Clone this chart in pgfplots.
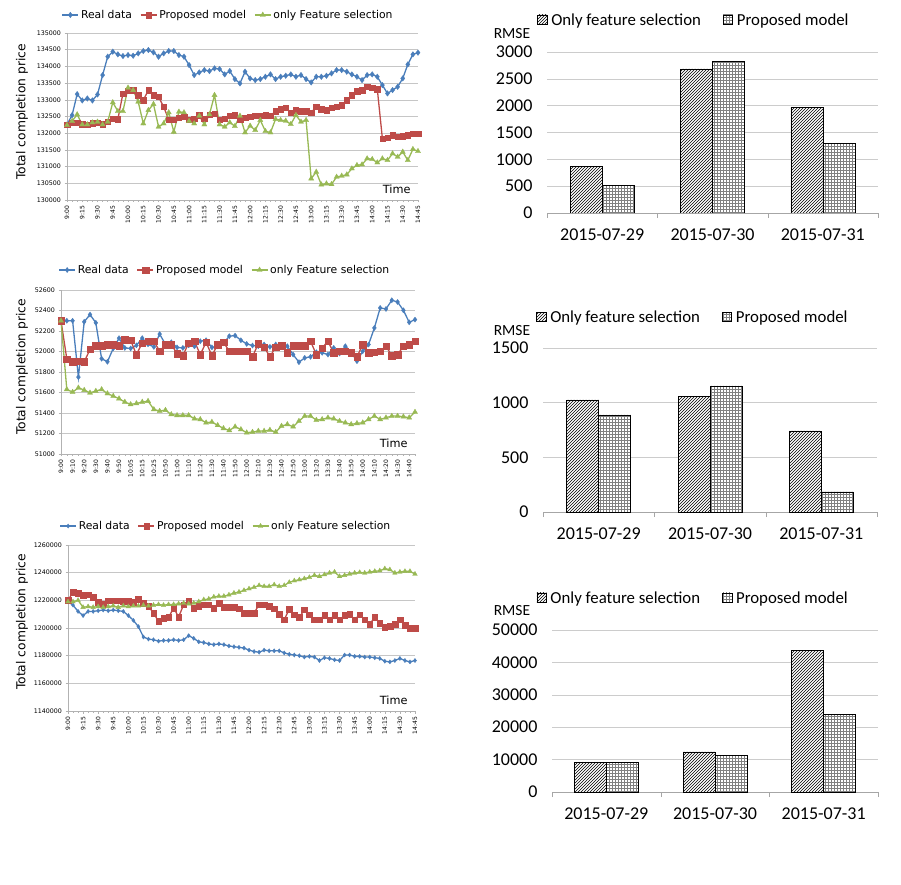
\documentclass[border=0pt]{standalone}
\usepackage{fontspec}
\setmainfont{Carlito}
\newfontfamily\lf{DejaVu Sans}
\usepackage{pgfplots}
\usepackage{pgfplotstable}
\pgfplotsset{compat=1.18}
\usetikzlibrary{patterns}

\definecolor{realc}{HTML}{4A7EBB}
\definecolor{propc}{HTML}{BE4B48}
\definecolor{fsc}{HTML}{98B954}

% first day: real data, proposed model, only feature selection (every 5 min)
\pgfplotstableread{
i r p f
0 132260 132260 132240
1 132540 132320 132360
2 133170 132320 132560
3 132980 132270 132260
4 133040 132260 132260
5 132980 132300 132320
6 133160 132320 132340
7 133740 132270 132260
8 134290 132340 132340
9 134440 132440 132920
10 134360 132420 132660
11 134310 133190 132660
12 134340 133270 133360
13 134320 133290 133290
14 134390 133140 132940
15 134460 132990 132290
16 134490 133290 132690
17 134420 133140 132870
18 134290 133090 132190
19 134390 132790 132290
20 134460 132410 132620
21 134460 132410 132040
22 134340 132470 132640
23 134290 132490 132620
24 134040 132410 132360
25 133740 132440 132290
26 133820 132540 132520
27 133890 132440 132260
28 133860 132560 132560
29 133940 132590 133140
30 133920 132410 132260
31 133760 132440 132190
32 133860 132520 132320
33 133620 132540 132210
34 133490 132410 132520
35 133840 132460 132020
36 133640 132490 132220
37 133590 132520 132090
38 133620 132520 132390
39 133690 132540 132060
40 133760 132520 132020
41 133620 132660 132420
42 133690 132720 132390
43 133720 132760 132370
44 133760 132620 132270
45 133690 132690 132540
46 133740 132660 132340
47 133620 132660 132390
48 133520 132620 130640
49 133690 132790 130840
50 133690 132720 130460
51 133720 132690 130490
52 133790 132760 130470
53 133890 132790 130690
54 133890 132840 130720
55 133840 132990 130760
56 133760 133140 130940
57 133690 133260 131040
58 133590 133290 131060
59 133740 133390 131240
60 133760 133360 131220
61 133690 133320 131120
62 133440 131840 131240
63 133190 131860 131190
64 133290 131940 131390
65 133390 131890 131290
66 133640 131910 131440
67 134060 131940 131190
68 134360 131990 131520
69 134410 131990 131460
}\tA

% second day
\pgfplotstableread{
i r p f
0 52300 52300 52300
1 52300 51928 51630
2 52300 51900 51604
3 51750 51905 51646
4 52290 51900 51623
5 52360 52020 51597
6 52280 52058 51614
7 51930 52058 51630
8 51900 52068 51590
9 52030 52068 51565
10 52130 52058 51540
11 52035 52117 51507
12 52030 52110 51484
13 52060 51970 51493
14 52130 52084 51507
15 52070 52100 51516
16 52045 52100 51435
17 52170 52003 51419
18 52070 52068 51428
19 52090 52068 51386
20 52040 51980 51377
21 52035 51960 51377
22 52060 52084 51377
23 52050 52100 51344
24 52100 51970 51338
25 52110 52090 51305
26 52040 51960 51312
27 52050 52068 51280
28 52080 52090 51250
29 52150 52003 51230
30 52155 52003 51266
31 52110 52003 51240
32 52074 52003 51208
33 52058 51948 51214
34 52052 52078 51224
35 52068 52045 51224
36 52045 51948 51234
37 52068 52045 51214
38 52052 52058 51273
39 52052 51987 51289
40 51970 52058 51266
41 51896 52058 51321
42 51938 52058 51370
43 51948 52100 51370
44 51993 51970 51331
45 51987 52035 51338
46 51970 52100 51354
47 52035 51987 51344
48 51980 52003 51321
49 52052 52003 51305
50 51993 51987 51289
51 51906 51948 51299
52 52003 52068 51305
53 52068 51987 51338
54 52230 51993 51370
55 52425 52003 51338
56 52415 52052 51354
57 52500 51960 51370
58 52483 51970 51370
59 52402 52052 51364
60 52285 52068 51354
61 52311 52100 51409
}\tB

% third day
\pgfplotstableread{
i r p f
0 1219000 1220000 1219000
1 1216500 1226000 1219000
2 1212000 1225300 1220000
3 1209000 1223600 1215000
4 1212000 1224100 1215500
5 1212000 1222200 1215000
6 1212500 1218800 1215500
7 1213000 1217300 1215000
8 1212500 1219800 1215500
9 1213000 1219800 1216000
10 1212500 1219800 1215000
11 1212000 1219300 1216000
12 1209000 1219300 1215500
13 1205500 1218800 1216000
14 1201000 1221000 1216000
15 1193500 1218100 1216500
16 1192000 1215700 1216000
17 1191500 1210800 1216500
18 1190500 1204800 1217000
19 1191000 1207200 1216500
20 1191000 1207700 1217000
21 1191500 1214500 1217000
22 1191000 1208000 1217500
23 1191500 1216900 1218000
24 1194500 1219300 1217500
25 1192500 1214500 1218000
26 1190000 1215700 1219000
27 1189500 1216900 1220500
28 1188500 1216900 1221000
29 1188000 1214500 1222500
30 1188500 1218100 1223000
31 1188000 1215000 1223000
32 1187000 1215000 1224000
33 1186500 1215000 1225300
34 1186000 1214000 1226000
35 1185500 1210800 1227200
36 1184000 1210800 1228400
37 1183000 1210800 1229400
38 1182500 1216900 1230800
39 1184000 1216900 1230100
40 1183500 1215700 1230100
41 1183500 1214000 1231300
42 1183500 1210100 1230100
43 1182000 1206000 1230800
44 1181000 1213700 1233000
45 1180500 1209600 1234200
46 1180000 1207700 1234900
47 1179000 1213200 1235700
48 1179500 1209600 1236600
49 1179000 1206000 1238100
50 1176500 1206000 1237300
51 1178500 1209100 1238600
52 1178000 1206000 1239800
53 1177000 1209100 1240500
54 1176500 1206000 1237300
55 1180500 1209100 1238100
56 1180500 1210100 1239000
57 1179500 1206000 1239800
58 1179500 1209600 1240200
59 1179000 1206000 1239800
60 1179000 1202900 1240500
61 1178500 1207700 1241000
62 1178000 1203600 1241400
63 1176000 1200500 1242900
64 1175500 1201200 1242200
65 1176500 1202900 1239800
66 1178000 1206000 1240500
67 1176500 1201900 1241000
68 1175500 1200000 1241000
69 1176500 1200000 1239000
}\tC

\pgfplotsset{
  lines/.style={
    scale only axis,
    axis x line=bottom, axis y line=left,
    axis line style={draw=gray!60, -},
    ymajorgrids, major grid style={draw=gray!45, line width=0.5pt},
    tick align=outside, major tick length=2.5pt, minor tick length=2pt,
    tick style={draw=gray!60, line width=0.4pt},
    yticklabel style={font=\lf\fontsize{6.3}{7}\selectfont},
    /pgf/number format/1000 sep={}, /pgf/number format/fixed,
    /pgf/number format/assume math mode=true,
    scaled y ticks=false,
    xticklabel style={font=\lf\fontsize{6}{7}\selectfont, rotate=90, anchor=east},
    legend style={draw=none, fill=none, font=\lf\fontsize{10.8}{12}\selectfont,
      legend columns=3, anchor=center,
      /tikz/every even column/.append style={column sep=6pt}},
    legend image code/.code={\draw[mark repeat=2,mark phase=2,##1]
      plot coordinates {(0pt,0pt)(8pt,0pt)(16pt,0pt)};},
    every axis plot/.append style={line width=1.3pt},
    clip=false,
  },
  bars/.style={
    scale only axis, ybar=0pt, bar width=32pt,
    xmin=-0.5, xmax=2.5, ymin=0,
    axis x line=bottom, axis y line=left,
    x axis line style={draw=gray!70, -}, y axis line style={draw=none},
    ymajorgrids, major grid style={draw=gray!40},
    xtick={0,1,2}, xticklabels={2015-07-29,2015-07-30,2015-07-31},
    major tick length=0pt,
    extra x ticks={-0.5,0.5,1.5,2.5}, extra x tick labels={},
    extra x tick style={grid=none, tick align=outside, major tick length=5pt,
      tick style={draw=gray!70}},
    tick label style={font=\fontsize{18}{20}\selectfont},
    xticklabel style={yshift=-12pt},
    yticklabel style={xshift=-11pt, inner ysep=1pt},
    /pgf/number format/1000 sep={}, /pgf/number format/assume math mode=true,
    scaled y ticks=false,
    legend style={draw=none, fill=none, font=\fontsize{16.8}{18}\selectfont,
      legend columns=2, anchor=center,
      /tikz/every odd column/.append style={column sep=2pt},
      /tikz/every even column/.append style={column sep=20pt}},
  },
  barleg/.style={legend image code/.code={\draw[##1] (0pt,-4.5pt) rectangle (9.5pt,5pt);}},
  hatch/.style={draw=black, fill=white, postaction={pattern=north east lines}, barleg},
  cross/.style={draw=black, fill=white, postaction={pattern=grid, pattern color=gray}, barleg},
}

\begin{document}
\begin{tikzpicture}
\useasboundingbox (0,0) rectangle (901pt,884pt);

% ---- line chart 1
\begin{axis}[lines, at={(67pt,684pt)}, anchor=south west, width=351pt, height=167pt,
  xmin=0, xmax=69, ymin=130000, ymax=135000,
  ytick={130000,130500,131000,131500,132000,132500,133000,133500,134000,134500,135000},
  xtick={0,3,...,69}, minor xtick={0,...,69},
  xticklabels={9:00,9:15,9:30,9:45,10:00,10:15,10:30,10:45,11:00,11:15,11:30,11:45,12:00,12:15,12:30,12:45,13:00,13:15,13:30,13:45,14:00,14:15,14:30,14:45},
  legend style={at={(0.459,1.108)}}]
\addplot[color=realc, mark=diamond*, mark size=2.8pt, mark options={line width=0.3pt}] table[x=i,y=r]{\tA};
\addplot[color=propc, mark=square*, mark size=2.7pt, mark options={line width=0.3pt}] table[x=i,y=p]{\tA};
\addplot[color=fsc, mark=triangle*, mark size=3pt, mark options={line width=0.3pt}] table[x=i,y=f]{\tA};
\legend{Real data, Proposed model, only Feature selection}
\node[anchor=south east, font=\lf\fontsize{11.3}{13}\selectfont] at ([xshift=-4pt,yshift=3pt]rel axis cs:1,0) {Time};
\end{axis}

% ---- line chart 2
\begin{axis}[lines, at={(61pt,430pt)}, anchor=south west, width=354pt, height=164pt,
  xmin=0, xmax=61, ymin=51000, ymax=52600,
  ytick={51000,51200,51400,51600,51800,52000,52200,52400,52600},
  xtick={0,2,...,60}, minor xtick={0,...,61},
  xticklabels={9:00,9:10,9:20,9:30,9:40,9:50,10:05,10:15,10:25,10:50,11:00,11:10,11:20,11:30,11:40,11:50,12:00,12:10,12:30,12:40,12:50,13:00,13:20,13:30,13:40,13:50,14:00,14:10,14:20,14:30,14:40},
  legend style={at={(0.463,1.122)}}]
\addplot[color=realc, mark=diamond*, mark size=2.6pt, mark options={line width=0.3pt}] table[x=i,y=r]{\tB};
\addplot[color=propc, mark=square*, mark size=3.2pt, mark options={line width=0.3pt}] table[x=i,y=p]{\tB};
\addplot[color=fsc, mark=triangle*, mark size=3pt, mark options={line width=0.3pt}] table[x=i,y=f]{\tB};
\legend{Real data, Proposed model, only Feature selection}
\node[anchor=south east, font=\lf\fontsize{11.3}{13}\selectfont] at ([xshift=-4pt,yshift=3pt]rel axis cs:1,0) {Time};
\end{axis}

% ---- line chart 3
\begin{axis}[lines, at={(68pt,173pt)}, anchor=south west, width=347pt, height=166pt,
  xmin=0, xmax=69, ymin=1140000, ymax=1260000,
  ytick={1140000,1160000,1180000,1200000,1220000,1240000,1260000},
  xtick={0,3,...,69}, minor xtick={0,...,69},
  xticklabels={9:00,9:15,9:30,9:45,10:00,10:15,10:30,10:45,11:00,11:15,11:30,11:45,12:00,12:15,12:30,12:45,13:00,13:15,13:30,13:45,14:00,14:15,14:30,14:45},
  legend style={at={(0.455,1.114)}}]
\addplot[color=realc, mark=diamond*, mark size=2.1pt, mark options={line width=0.3pt}] table[x=i,y=r]{\tC};
\addplot[color=propc, mark=square*, mark size=2.8pt, mark options={line width=0.3pt}] table[x=i,y=p]{\tC};
\addplot[color=fsc, mark=triangle*, mark size=2.7pt, mark options={line width=0.3pt}] table[x=i,y=f]{\tC};
\legend{Real data, Proposed model, only Feature selection}
\node[anchor=south east, font=\lf\fontsize{11.3}{13}\selectfont] at ([xshift=-4pt,yshift=3pt]rel axis cs:1,0) {Time};
\end{axis}

% ---- RMSE bars
\begin{axis}[bars, at={(547pt,671pt)}, anchor=south west, width=331pt, height=161pt,
  ymax=3000, ytick={0,500,1000,1500,2000,2500,3000},
  legend style={at={(0.444,1.199)}}]
\addplot[hatch] coordinates {(0,866) (1,2684) (2,1967)};
\addplot[cross] coordinates {(0,513) (1,2827) (2,1299)};
\legend{Only feature selection, Proposed model}
\end{axis}

\begin{axis}[bars, at={(543pt,372pt)}, anchor=south west, width=334pt, height=164pt,
  ymax=1500, ytick={0,500,1000,1500},
  legend style={at={(0.449,1.189)}}]
\addplot[hatch] coordinates {(0,1026) (1,1056) (2,741)};
\addplot[cross] coordinates {(0,888) (1,1154) (2,184)};
\legend{Only feature selection, Proposed model}
\end{axis}

\begin{axis}[bars, at={(552pt,92pt)}, anchor=south west, width=326pt, height=162pt,
  ymax=50000, ytick={0,10000,20000,30000,40000,50000},
  legend style={at={(0.433,1.198)}}]
\addplot[hatch] coordinates {(0,9072) (1,12371) (2,43814)};
\addplot[cross] coordinates {(0,9072) (1,11340) (2,23918)};
\legend{Only feature selection, Proposed model}
\end{axis}

% axis titles
\foreach \yy in {772,517,262}
  \node[rotate=90, font=\lf\fontsize{12.3}{14}\selectfont] at (22pt,\yy pt) {Total completion price};
\foreach \yy in {850,553,273}
  \node[font=\fontsize{15.5}{17}\selectfont, inner ysep=1pt] at (512pt,\yy pt) {RMSE};
\end{tikzpicture}
\end{document}
